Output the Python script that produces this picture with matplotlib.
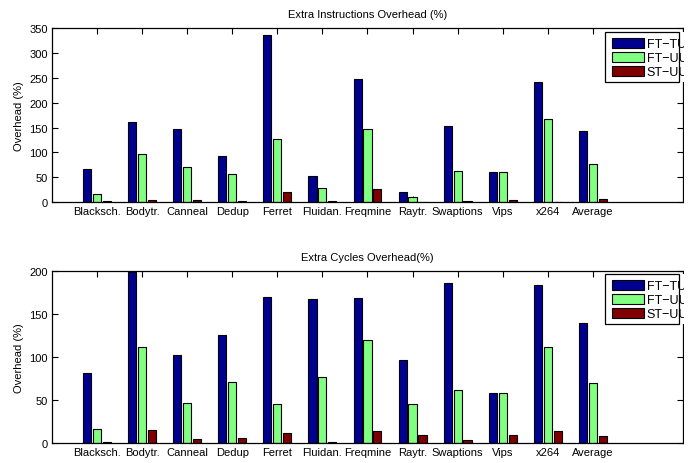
import matplotlib
matplotlib.use("Agg")
import matplotlib.pyplot as plt
from matplotlib.patches import Rectangle
import numpy as np

plt.rcParams['font.family'] = ['Liberation Sans', 'DejaVu Sans']
plt.rcParams['font.size'] = 8

# benchmarks
categories = ['Blacksch.', 'Bodytr.', 'Canneal', 'Dedup', 'Ferret', 'Fluidan.',
              'Freqmine', 'Raytr.', 'Swaptions', 'Vips', 'x264', 'Average']
series = ['FT\u2212TU', 'FT\u2212UU', 'ST\u2212UU']
colors = ['#000090', '#80FF80', '#800000']

# extra instructions overhead (%)
instr_ft_tu = [66, 162, 148, 93, 336, 52, 248, 21, 153, 60, 241, 143]
instr_ft_uu = [16, 96, 71, 57, 127, 28, 147, 11, 63, 60, 168, 77]
instr_st_uu = [3, 5, 4, 2, 20, 2, 26, 1, 3, 3.5, 1, 6]

# extra cycles overhead (%)
cyc_ft_tu = [82, 198, 102, 125, 169, 167, 168, 97, 186, 58, 183, 139]
cyc_ft_uu = [17, 112, 47, 71, 46, 77, 120, 46, 62, 58, 112, 70]
cyc_st_uu = [2, 15.5, 4.5, 6, 11.5, 1, 14, 9.5, 4, 9.5, 14, 8.5]

x = np.arange(1, len(categories) + 1)
w = 0.18
offs = [-0.22, 0, 0.22]

W, H = 691, 464
fig = plt.figure(figsize=(6.91, 4.64), dpi=100)
ax1 = fig.add_axes([0.0753, 0.5625, 0.913, 0.3744])
ax2 = fig.add_axes([0.0753, 0.0424, 0.913, 0.3720])


def px(x0, y0, x1, y1, **kw):
    # rectangle given in pixel coords from the top-left corner
    return Rectangle((x0 / W, 1 - y1 / H), (x1 - x0) / W, (y1 - y0) / H,
                     transform=fig.transFigure, **kw)


def draw(ax, data, title, yticks, leg_top):
    bars = []
    for vals, off, c, lab in zip(data, offs, colors, series):
        b = ax.bar(x + off, vals, w, color=c, edgecolor='black', linewidth=0.8, label=lab, zorder=2)
        bars.append(b)
    ax.set_xlim(0, 14)
    ax.set_ylim(0, yticks[-1])
    ax.set_xticks(x)
    ax.set_xticklabels(categories)
    ax.set_yticks(yticks)
    ax.tick_params(direction='in', top=True, right=True, length=4, width=0.8, pad=3)
    for s in ax.spines.values():
        s.set_linewidth(0.9)
    ax.set_ylabel('Overhead (%)')
    ax.set_title(title, fontsize=8, pad=8)

    # legend box (MATLAB export: text runs past the frame)
    fig.add_artist(px(605, leg_top, 684, leg_top + 50, facecolor='white', edgecolor='none', zorder=4))
    fig.add_artist(px(605, leg_top, 679, leg_top + 50, facecolor='none', edgecolor='black',
                      linewidth=0.9, zorder=4.5))
    leg = fig.legend(bars, series, loc='upper left',
                     bbox_to_anchor=(611.5 / W, 1 - (leg_top + 5.5) / H),
                     frameon=False, handlelength=2.6, handleheight=0.86,
                     handletextpad=0.2, labelspacing=0.15, borderpad=0,
                     borderaxespad=0, fontsize=9)
    leg.set_zorder(5)


draw(ax1, [instr_ft_tu, instr_ft_uu, instr_st_uu], 'Extra Instructions Overhead (%)',
     [0, 50, 100, 150, 200, 250, 300, 350], 33)
draw(ax2, [cyc_ft_tu, cyc_ft_uu, cyc_st_uu], 'Extra Cycles Overhead(%)',
     [0, 50, 100, 150, 200], 275)

# everything right of the axes is cut off
fig.add_artist(px(683.5, 0, W, H, facecolor='white', edgecolor='none', zorder=10))

fig.savefig('out.png', dpi=100)
